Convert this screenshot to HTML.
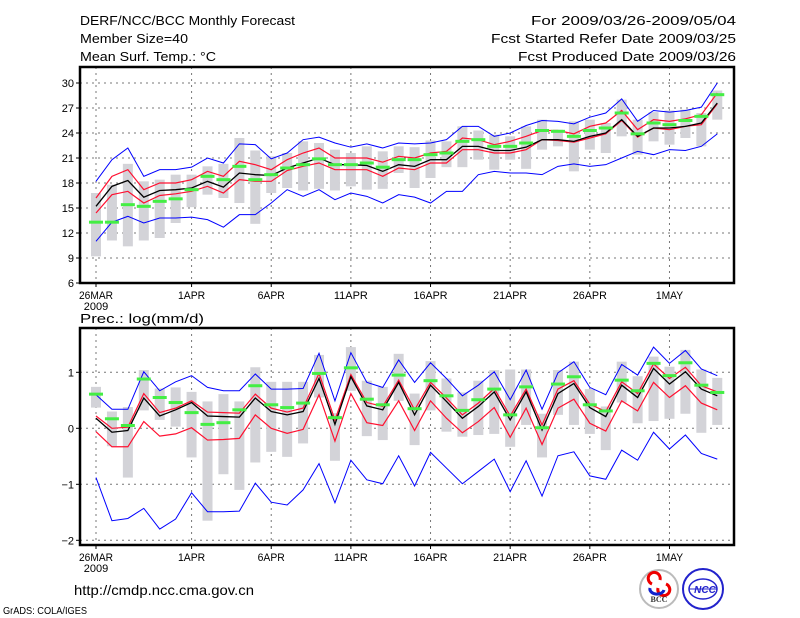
<!DOCTYPE html>
<html><head><meta charset="utf-8"><style>
body{margin:0;background:#fff;width:800px;height:618px;overflow:hidden}
svg{display:block;font-family:"Liberation Sans",sans-serif}
</style></head><body>
<svg id="c" width="800" height="618" viewBox="0 0 800 618">
<g font-size="13" fill="#000">
<text x="80" y="25" textLength="215" lengthAdjust="spacingAndGlyphs">DERF/NCC/BCC Monthly Forecast</text>
<text x="80" y="43" textLength="108" lengthAdjust="spacingAndGlyphs">Member Size=40</text>
<text x="80" y="61" textLength="136" lengthAdjust="spacingAndGlyphs">Mean Surf. Temp.: °C</text>
<text x="736" y="25" text-anchor="end" textLength="205" lengthAdjust="spacingAndGlyphs">For 2009/03/26-2009/05/04</text>
<text x="736" y="43" text-anchor="end" textLength="245" lengthAdjust="spacingAndGlyphs">Fcst Started Refer Date 2009/03/25</text>
<text x="736" y="61" text-anchor="end" textLength="218" lengthAdjust="spacingAndGlyphs">Fcst Produced Date 2009/03/26</text>
</g>
<text x="80" y="323" font-size="13" textLength="124" lengthAdjust="spacingAndGlyphs">Prec.: log(mm/d)</text>
<text x="74" y="595" font-size="14" textLength="180" lengthAdjust="spacingAndGlyphs">http://cmdp.ncc.cma.gov.cn</text>
<text x="3" y="614" font-size="10" textLength="84" lengthAdjust="spacingAndGlyphs">GrADS: COLA/IGES</text>
<g>
<circle cx="659" cy="589" r="19" fill="#fff" stroke="#bbb" stroke-width="2"/>
<path d="M652 584 a6 6 0 1 1 8 -4 M666 584 a6 6 0 1 1 -8 4" fill="none" stroke="#e00" stroke-width="3"/>
<path d="M650 588 a7 5 0 0 0 14 2" fill="none" stroke="#12c" stroke-width="3"/>
<text x="659" y="602" font-size="8" font-weight="bold" text-anchor="middle" fill="#333" font-family="Liberation Serif,serif">BCC</text>
</g>
<g>
<circle cx="703" cy="589" r="20" fill="#fff" stroke="#22c" stroke-width="2"/>
<ellipse cx="703" cy="589" rx="14" ry="10" fill="none" stroke="#22c" stroke-width="1.5"/>
<line x1="689" y1="589" x2="717" y2="589" stroke="#22c"/>
<text x="705" y="593" font-size="10" font-weight="bold" font-style="italic" text-anchor="middle" fill="#22c">NCC</text>
</g>
</svg>
<script>
// ---- temperature data (top panel) ----
const days = ["26MAR","1APR","6APR","11APR","16APR","21APR","26APR","1MAY"];
const tickDayIdx = [0,6,11,16,21,26,31,36];
const tempTicks = [6,9,12,15,18,21,24,27,30];
const tMean = [15.2,17.6,18.3,16.3,17.1,17.2,17.4,18.2,17.5,19.2,19.0,18.9,19.8,20.4,21.0,20.2,20.2,20.1,19.4,20.2,20.0,20.8,20.8,22.4,22.4,21.9,21.9,22.3,23.2,23.2,23.0,23.6,24.0,25.6,23.6,24.6,24.6,24.8,25.2,27.6];
const tRedHi = [16.2,18.8,19.6,17.2,18.0,18.0,18.4,19.4,18.8,20.6,20.2,19.6,20.8,21.6,22.2,21.0,21.0,21.0,20.5,21.2,21.0,21.6,21.8,23.4,23.2,22.6,23.0,23.6,24.3,24.3,23.9,24.8,25.2,26.7,24.4,25.6,25.4,25.7,26.2,28.8];
const tRedLo = [14.4,16.6,17.0,15.6,16.5,16.7,17.0,17.6,16.8,18.4,18.2,18.2,19.5,20.0,20.4,19.6,19.6,19.6,18.8,19.8,19.6,20.4,20.4,22.0,22.0,21.6,21.6,22.0,23.2,23.1,22.9,23.4,23.9,25.5,23.5,24.6,24.4,24.8,25.0,27.5];
const tMax = [18.2,20.8,22.2,18.8,19.6,19.6,19.9,21.0,20.4,22.7,22.6,20.9,21.6,23.2,23.5,22.8,22.3,22.7,22.2,22.8,22.7,22.8,23.2,24.8,24.8,23.6,24.0,24.9,25.5,25.4,25.1,25.9,26.4,28.1,25.4,26.7,26.5,26.7,27.1,30.0];
const tMin = [11.0,13.3,14.0,13.2,13.8,13.8,13.9,13.6,12.7,14.2,14.2,15.6,17.2,16.4,17.2,16.0,16.8,16.4,15.6,16.6,16.3,15.6,17.0,17.0,19.0,19.4,19.2,19.2,19.0,20.0,20.3,20.0,20.2,21.0,21.8,21.4,22.0,21.9,22.4,23.9];
const tBarTop = [16.8,17.8,20.3,18.2,18.4,19.0,19.0,20.0,20.3,23.4,21.9,21.2,21.6,23.0,22.8,22.0,21.6,22.4,21.8,22.4,22.3,23.1,23.0,24.8,24.3,23.8,23.6,24.8,25.6,24.4,25.4,25.6,25.2,28.0,25.6,26.5,26.7,26.8,26.4,29.1];
const tBarBot = [9.2,11.1,10.4,11.1,11.4,13.2,15.1,16.6,16.2,15.6,13.1,16.8,17.4,17.1,17.3,17.1,17.6,17.2,17.3,19.2,17.4,18.6,19.9,19.9,20.8,19.6,20.8,19.7,22.0,22.4,19.4,22.0,21.6,23.6,21.4,23.0,22.6,23.4,22.4,25.6];
const tObs = [13.3,13.3,15.4,15.2,15.8,16.1,17.2,18.8,18.4,20.0,18.4,19.0,19.8,20.2,20.9,20.2,20.2,20.4,19.9,20.8,20.8,21.4,21.6,23.0,23.2,22.4,22.4,22.8,24.3,24.2,23.6,24.3,24.6,26.4,23.9,25.2,25.0,25.5,26.0,28.6];
// ---- precipitation data (bottom panel) ----
const precTicks = [-2,-1,0,1];
const pMean = [0.18,-0.07,-0.04,0.54,0.22,0.33,0.46,0.22,0.21,0.2,0.54,0.3,0.24,0.3,0.89,0.07,0.92,0.4,0.33,0.82,0.24,0.77,0.48,0.18,0.39,0.65,0.15,0.65,-0.03,0.62,0.8,0.37,0.21,0.77,0.55,1.07,0.79,1.01,0.7,0.58];
const pRedHi = [0.22,0.0,0.02,0.62,0.28,0.36,0.49,0.29,0.28,0.27,0.61,0.36,0.29,0.36,0.98,0.15,0.96,0.46,0.39,0.86,0.33,0.82,0.54,0.24,0.45,0.71,0.22,0.7,0.06,0.7,0.85,0.43,0.3,0.83,0.62,1.15,0.89,1.09,0.76,0.65];
const pRedLo = [-0.06,-0.33,-0.33,0.12,-0.14,-0.1,0.01,-0.21,-0.2,-0.18,0.24,0.0,-0.09,-0.02,0.6,-0.23,0.62,0.1,0.05,0.49,-0.04,0.49,0.18,-0.08,0.12,0.37,-0.16,0.36,-0.29,0.36,0.52,0.09,-0.05,0.49,0.31,0.82,0.55,0.76,0.45,0.33];
const pMax = [0.6,0.34,0.34,1.01,0.67,0.83,0.94,0.73,0.67,0.67,0.97,0.7,0.7,0.71,1.34,0.49,1.35,0.82,0.73,1.22,0.82,1.17,0.89,0.58,0.77,1.01,0.51,1.04,0.34,0.99,1.19,0.73,0.6,1.14,0.95,1.45,1.16,1.39,1.06,0.94];
const pMin = [-0.88,-1.65,-1.61,-1.43,-1.8,-1.62,-1.15,-1.49,-1.49,-1.48,-0.98,-1.32,-1.37,-1.1,-0.63,-1.33,-0.57,-0.92,-0.99,-0.49,-1.03,-0.43,-0.71,-0.99,-0.77,-0.55,-1.13,-0.58,-1.21,-0.49,-0.42,-0.85,-0.91,-0.39,-0.57,-0.07,-0.37,-0.12,-0.45,-0.55];
const pBarTop = [0.74,0.3,0.38,1.04,0.71,0.73,0.65,0.48,0.61,0.48,1.09,0.83,0.83,0.83,1.31,0.27,1.45,0.85,0.74,1.33,0.62,1.2,0.89,0.64,0.85,1.04,1.05,1.05,0.26,1.04,1.19,0.7,0.39,1.19,0.93,1.28,1.1,1.4,1.05,0.9];
const pBarBot = [0.37,-0.32,-0.88,0.32,0.15,0.03,-0.52,-1.65,-0.82,-1.1,-0.61,-0.42,-0.51,-0.27,0.55,-0.58,0.67,-0.14,-0.21,0.49,-0.3,0.32,-0.06,-0.15,-0.12,-0.1,-0.33,0.06,-0.52,0.24,0.06,-0.1,-0.39,0.46,0.09,0.13,0.17,0.26,-0.08,0.06];
const pObs = [0.61,0.17,0.05,0.88,0.55,0.46,0.28,0.07,0.1,0.33,0.76,0.42,0.37,0.45,0.98,0.19,1.08,0.52,0.42,0.95,0.35,0.85,0.58,0.32,0.51,0.7,0.24,0.74,0.01,0.79,0.92,0.42,0.31,0.86,0.67,1.16,0.94,1.17,0.77,0.64];

const NS="http://www.w3.org/2000/svg";
const svg=document.getElementById('c');
function mk(tag,attrs,parent){const e=document.createElementNS(NS,tag);for(const k in attrs)e.setAttribute(k,attrs[k]);(parent||svg).appendChild(e);return e;}
const X0=96, DX=15.93, L=80, R=734;
function xs(i){return X0+DX*i;}

function panel(cfg){
  const g=mk('g',{});
  
  
  const ys=v=>cfg.yBase-(v-cfg.vBase)*cfg.ppu;
  // grid
  cfg.ticks.forEach(t=>{
    const y=ys(t);
    const gl=mk('line',{x1:L,x2:R,y1:y,y2:y,stroke:'#777','stroke-dasharray':'2,4','stroke-width':1},g);
    
    
    const tk=mk('line',{x1:L-4,x2:L,y1:y,y2:y,stroke:'#000'},g);
    
    
    const tl=mk('text',{x:L-6,y:y+4,'font-size':11,'text-anchor':'end'},g);
    tl.textContent=t<0?'\u2212'+Math.abs(t):String(t);
    
    
  });
  tickDayIdx.forEach((d,k)=>{
    const x=xs(d);
    const gl=mk('line',{x1:x,x2:x,y1:cfg.top,y2:cfg.bot,stroke:'#777','stroke-dasharray':'2,4'},g);
    
    
    const tk=mk('line',{x1:x,x2:x,y1:cfg.bot,y2:cfg.bot+4,stroke:'#000'},g);
    
    
    const tl=mk('text',{x:x,y:cfg.bot+16,'font-size':11,'text-anchor':'middle',textLength:days[k].length*6.8,lengthAdjust:'spacingAndGlyphs'},g);
    tl.textContent=days[k];
    
    
  });
  const yr=mk('text',{x:xs(0),y:cfg.bot+27,'font-size':11,'text-anchor':'middle'},g);
  yr.textContent='2009';
  
  
  // bars
  cfg.barTop.forEach((v,i)=>{
    const y1=ys(v),y2=ys(cfg.barBot[i]);
    const b=mk('rect',{x:xs(i)-5,y:y1,width:10,height:y2-y1,fill:'#d3d3d8'},g);
    
    
  });
  const line=(arr,col,w,name)=>{
    const p=mk('polyline',{points:arr.map((v,i)=>xs(i)+','+ys(v)).join(' '),fill:'none',stroke:col,'stroke-width':w},g);
    
    
  };
  line(cfg.max,'#0000ff',1,'max-line');
  line(cfg.min,'#0000ff',1,'min-line');
  line(cfg.hi,'#ff1030',1.2,'upper-spread-line');
  line(cfg.lo,'#ff1030',1.2,'lower-spread-line');
  line(cfg.mean,'#000',1.3,'ensemble-mean-line');
  cfg.obs.forEach((v,i)=>{
    const r=mk('rect',{x:xs(i)-7,y:ys(v)-1.5,width:14,height:3,fill:'#44ee44'},g);
    
    
  });
  const f=mk('rect',{x:L,y:cfg.top,width:R-L,height:cfg.bot-cfg.top,fill:'none',stroke:'#000','stroke-width':2.5},g);
  
  
}
panel({name:'temperature-panel',top:67,bot:283,yBase:283,vBase:6,ppu:8.333,ticks:tempTicks,
  barTop:tBarTop,barBot:tBarBot,max:tMax,min:tMin,hi:tRedHi,lo:tRedLo,mean:tMean,obs:tObs});
panel({name:'precipitation-panel',top:328,bot:545,yBase:428.3,vBase:0,ppu:56,ticks:precTicks,
  barTop:pBarTop,barBot:pBarBot,max:pMax,min:pMin,hi:pRedHi,lo:pRedLo,mean:pMean,obs:pObs});
</script>
</body></html>
